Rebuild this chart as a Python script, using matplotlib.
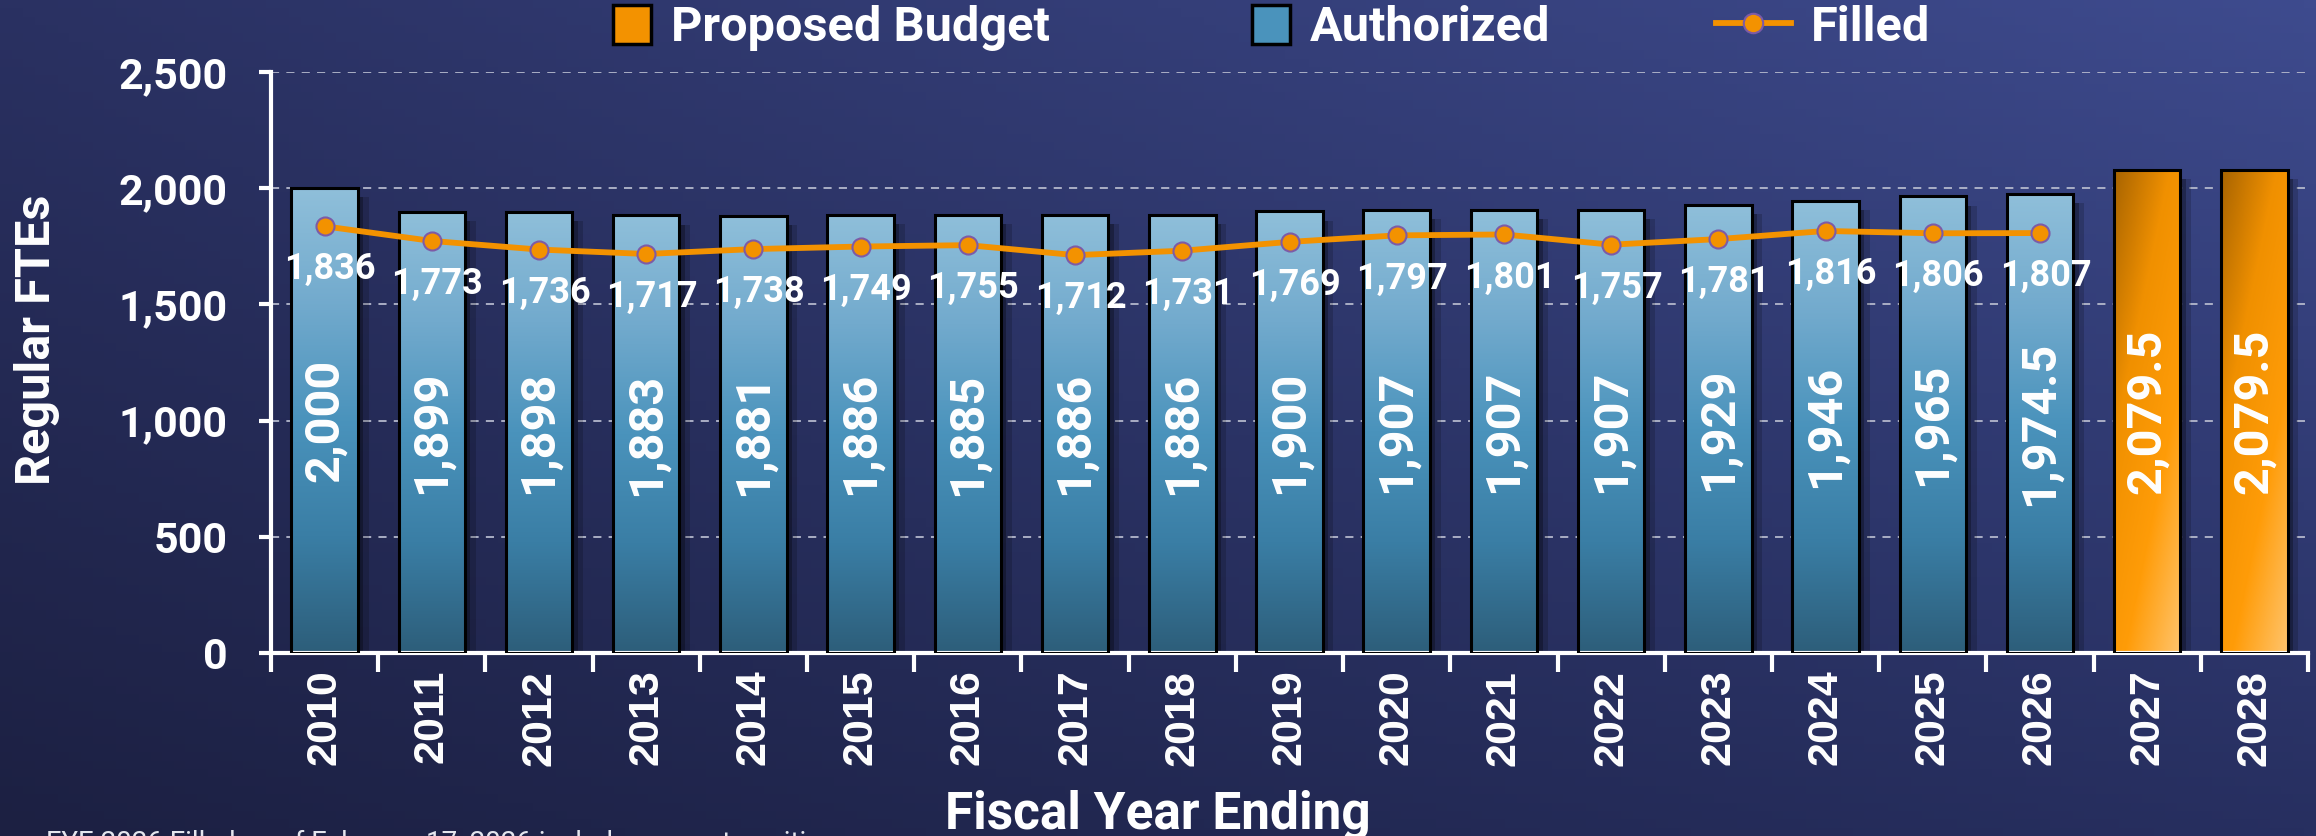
import matplotlib.pyplot as plt
import numpy as np
from matplotlib.colors import LinearSegmentedColormap, to_rgb
from matplotlib.patches import Rectangle, Patch
from matplotlib.lines import Line2D
from matplotlib.legend_handler import HandlerPatch

years = [str(y) for y in range(2010, 2029)]
authorized = [2000, 1899, 1898, 1883, 1881, 1886, 1885, 1886, 1886,
              1900, 1907, 1907, 1907, 1929, 1946, 1965, 1974.5]
proposed = [2079.5, 2079.5]
filled = [1836, 1773, 1736, 1717, 1738, 1749, 1755, 1712, 1731,
          1769, 1797, 1801, 1757, 1781, 1816, 1806, 1807]
footnote = "FYE 2026 Filled as of February 17, 2026 includes vacant positions"

W, H = 2316, 836
fig = plt.figure(figsize=(W / 100, H / 100), dpi=100)

# background gradient
bg = fig.add_axes([0, 0, 1, 1], zorder=-10)
tl, tr = np.array(to_rgb('#2a3162')), np.array(to_rgb('#3e4b8e'))
bl, br = np.array(to_rgb('#1c2042')), np.array(to_rgb('#272f60'))
u = np.linspace(0, 1, 200)[None, :, None]
v = np.linspace(0, 1, 100)[:, None, None]
top = tl * (1 - u) + tr * u
bot = bl * (1 - u) + br * u
bg.imshow(top * (1 - v) + bot * v, aspect='auto', extent=[0, 1, 0, 1])
bg.axis('off')

ax = fig.add_axes([271 / W, (H - 653) / H, (2308 - 271) / W, (653 - 72) / H])
ax.set_facecolor('none')

blue_cmap = LinearSegmentedColormap.from_list(
    'blue', ['#8fbfda', '#72aacd', '#4a93bc', '#3a7ea5', '#2d5e7a'])
orange_cmap = LinearSegmentedColormap.from_list(
    'orange', ['#a86400', '#f09000', '#ff9c08', '#ffc46c'])

w = 0.62
vgrad = np.linspace(0, 1, 256).reshape(-1, 1)
uu, vv = np.meshgrid(np.linspace(0, 1, 64), np.linspace(0, 1, 256))
dgrad = 0.4 * uu + 0.6 * vv


def draw_bar(i, h, grad, cmap):
    x0 = i - w / 2
    for dx, a in [(0.05, 0.28), (0.1, 0.17)]:
        ax.add_patch(Rectangle((x0 + dx, 0), w, h - 40, color='black',
                               alpha=a, lw=0, zorder=1.5))
    im = ax.imshow(grad, cmap=cmap, extent=[x0, x0 + w, 0, h],
                   aspect='auto', origin='upper', zorder=2)
    im.set_clip_path(Rectangle((x0, 0), w, h, transform=ax.transData))
    ax.add_patch(Rectangle((x0, 0), w, h, facecolor='none',
                           edgecolor='black', lw=2.2, zorder=3))
    txt = f'{h:,.1f}' if h % 1 else f'{int(h):,}'
    ax.text(i, h / 2, txt, rotation=90, ha='center', va='center',
            color='white', fontsize=35, fontfamily='Roboto',
            fontweight='bold', zorder=5)


for i, h in enumerate(authorized):
    draw_bar(i, h, vgrad, blue_cmap)
for j, h in enumerate(proposed):
    draw_bar(len(authorized) + j, h, dgrad, orange_cmap)

xf = np.arange(len(filled))
ax.plot(xf, filled, color='#f39200', lw=4.2, marker='o', ms=13,
        mfc='#f39200', mec='#7d5ba6', mew=1.5, zorder=4)
for i, v_ in enumerate(filled):
    ax.annotate(f'{v_:,}', (i, v_), xytext=(4, -31),
                textcoords='offset points', ha='center', va='center',
                color='white', fontsize=26, fontfamily='Roboto',
                fontweight='bold', zorder=5)

ax.set_xlim(-0.5, len(years) - 0.5)
ax.set_ylim(0, 2500)
ax.set_yticks(range(0, 2501, 500))
ax.set_yticklabels([f'{t:,}' for t in range(0, 2501, 500)],
                   fontfamily='Roboto', fontweight='bold')
ax.set_xticks(range(len(years)))
ax.set_xticklabels(years, rotation=90, fontfamily='Liberation Sans',
                   fontweight='bold')
ax.set_xticks(np.arange(-0.5, len(years), 1), minor=True)
ax.tick_params(axis='y', length=9, width=3, color='white', pad=22,
               labelsize=31, labelcolor='white')
ax.tick_params(axis='x', which='major', length=0, pad=12, labelsize=31,
               labelcolor='white')
ax.tick_params(axis='x', which='minor', length=14, width=3, color='white')
ax.yaxis.grid(True, ls=(0, (4.5, 4)), color='#b4b8cc', lw=1.3)
ax.set_axisbelow(True)
for s in ['top', 'right']:
    ax.spines[s].set_visible(False)
for s in ['left', 'bottom']:
    ax.spines[s].set_color('white')
    ax.spines[s].set_linewidth(3)

fig.text(37 / W, 1 - 340 / H, 'Regular FTEs', rotation=90, ha='center',
         va='center', color='white', fontsize=35, fontfamily='Roboto',
         fontweight='bold')
fig.text(0.5, 1 - 815 / H, 'Fiscal Year Ending', ha='center', va='center',
         color='white', fontsize=37, fontfamily='Roboto', fontweight='bold')
fig.text(46 / W, -15 / H, footnote, ha='left', va='baseline',
         color='#e4e6ee', fontsize=20, fontfamily='Roboto')


def square(legend, orig_handle, xdescent, ydescent, width, height, fontsize):
    return Rectangle((-xdescent + width - height, -ydescent), height, height)


handles = [Patch(facecolor='#f39200', edgecolor='black', lw=2.5),
           Patch(facecolor='#4a93bc', edgecolor='black', lw=2.5),
           Line2D([], [], color='#f39200', lw=4.2, marker='o', ms=14,
                  mfc='#f39200', mec='#7d5ba6', mew=1.5)]
leg = fig.legend(handles, ['Proposed Budget', 'Authorized', 'Filled'],
                 loc='center', bbox_to_anchor=(0.541, 1 - 28 / H), ncol=3,
                 frameon=False, numpoints=1, handlelength=1.55,
                 handleheight=0.85, handletextpad=0.4, columnspacing=3.4,
                 prop={'family': 'Roboto', 'weight': 'bold', 'size': 35},
                 handler_map={Patch: HandlerPatch(patch_func=square)})
for t in leg.get_texts():
    t.set_color('white')

fig.savefig('out.png', dpi=100)
